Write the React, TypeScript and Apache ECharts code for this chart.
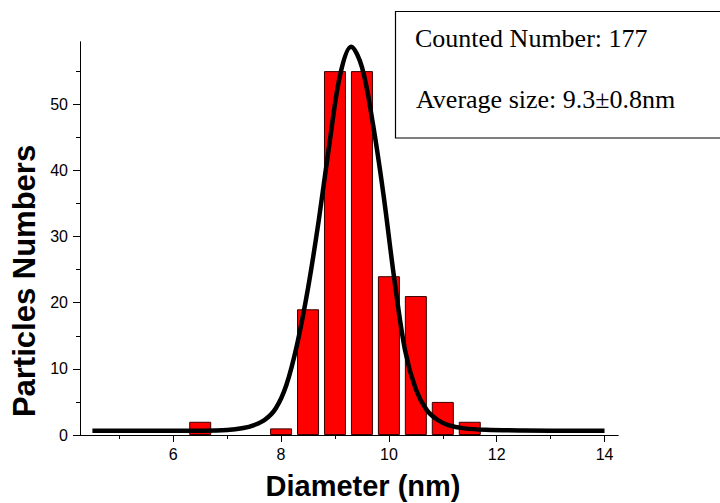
import React, { useEffect, useRef } from "react";
import * as echarts from "echarts";

const binCenters = [6.5, 8.0, 8.5, 9.0, 9.5, 10.0, 10.5, 11.0, 11.5];
const binCounts = [2, 1, 19, 55, 55, 24, 21, 5, 2];

const fitX = [4.5, 5.5, 6.5, 7.0, 7.3, 7.5, 7.7, 7.9, 8.1, 8.3, 8.5, 8.7, 8.9, 9.1, 9.3, 9.5, 9.7, 9.9, 10.1, 10.3, 10.5, 10.7, 10.9, 11.1, 11.4, 11.8, 12.5, 13.5, 14.0];
const fitY = [0.65, 0.65, 0.66, 0.75, 1.05, 1.5, 2.3, 4.0, 7.6, 13.8, 22.2, 32.5, 44.2, 54.6, 58.7, 55.6, 47.2, 36.3, 23.6, 12.8, 6.9, 3.8, 2.3, 1.5, 1.0, 0.78, 0.68, 0.65, 0.65];

const xMajorTicks = [6, 8, 10, 12, 14];
const xMinorTicks = [5, 7, 9, 11, 13];
const yMajorTicks = [0, 10, 20, 30, 40, 50];
const yMinorTicks = [5, 15, 25, 35, 45, 55];

const legendLines = ["Counted Number: 177", "Average size: 9.3\u00b10.8nm"];
const xTitle = "Diameter (nm)";
const yTitle = "Particles Numbers";

export default function App() {
  const ref = useRef<HTMLDivElement>(null);
  useEffect(() => {
    if (!ref.current) return;
    const chart = echarts.init(ref.current, undefined, { renderer: "svg" });
    const xMin = 4.27, xMax = 14.25, yMin = 0, yMax = 59.4;
    const labelFont = { fontFamily: "Liberation Sans", fontSize: 16, color: "#000" };
    const axisLine = { show: true, onZero: false, lineStyle: { color: "#000", width: 1 } };
    chart.setOption({
      animation: false,
      backgroundColor: "#fff",
      grid: { left: 80, top: 42, right: 102, bottom: 68, containLabel: false },
      xAxis: [
        {
          type: "value", min: xMin, max: xMax, position: "bottom",
          axisLine, splitLine: { show: false },
          axisTick: { show: true, inside: false, length: 7, customValues: xMajorTicks, lineStyle: { color: "#000" } },
          axisLabel: { ...labelFont, margin: 11, customValues: xMajorTicks },
        },
        {
          type: "value", min: xMin, max: xMax, position: "bottom",
          axisLine, splitLine: { show: false },
          axisTick: { show: true, inside: false, length: 4, customValues: xMinorTicks, lineStyle: { color: "#000" } },
          axisLabel: { show: false },
        },
      ],
      yAxis: [
        {
          type: "value", min: yMin, max: yMax, position: "left",
          axisLine, splitLine: { show: false },
          axisTick: { show: true, inside: false, length: 7, customValues: yMajorTicks, lineStyle: { color: "#000" } },
          axisLabel: { ...labelFont, margin: 12, customValues: yMajorTicks },
        },
        {
          type: "value", min: yMin, max: yMax, position: "left",
          axisLine, splitLine: { show: false },
          axisTick: { show: true, inside: false, length: 4, customValues: yMinorTicks, lineStyle: { color: "#000" } },
          axisLabel: { show: false },
        },
      ],
      series: [
        {
          type: "bar",
          xAxisIndex: 0, yAxisIndex: 0,
          data: binCenters.map((c, i) => [c, binCounts[i]]),
          barWidth: 22,
          itemStyle: { color: "#ff0000", borderColor: "#3a0000", borderWidth: 1 },
          z: 2,
        },
        {
          type: "line",
          xAxisIndex: 0, yAxisIndex: 0,
          data: fitX.map((x, i) => [x, fitY[i]]),
          smooth: 0.35,
          showSymbol: false,
          lineStyle: { color: "#000", width: 4.5, join: "round" },
          z: 3,
        },
      ],
      graphic: [
        {
          type: "rect",
          shape: { x: 395.5, y: 11.5, width: 330, height: 126.5 },
          style: { fill: "#fff", stroke: "#000", lineWidth: 1.2 },
          z: 10,
        },
        {
          type: "text", x: 415, y: 38, z: 11,
          style: { text: legendLines[0], font: '26px "Liberation Serif"', fill: "#000", verticalAlign: "middle", align: "left" },
        },
        {
          type: "text", x: 416, y: 99, z: 11,
          style: { text: legendLines[1], font: '26px "Liberation Serif"', fill: "#000", verticalAlign: "middle", align: "left" },
        },
        {
          type: "text", x: 24.5, y: 281, rotation: Math.PI / 2, z: 11,
          style: { text: yTitle, font: 'bold 31px "Liberation Sans"', fill: "#000", verticalAlign: "middle", align: "center" },
        },
        {
          type: "text", x: 363, y: 486, z: 11,
          style: { text: xTitle, font: 'bold 29px "Liberation Sans"', fill: "#000", verticalAlign: "middle", align: "center" },
        },
      ],
    });
    return () => chart.dispose();
  }, []);
  return (
    <div
      ref={ref}
      style={{ position: "fixed", left: 0, top: 0, width: 720, height: 503, background: "#fff" }}
    />
  );
}
